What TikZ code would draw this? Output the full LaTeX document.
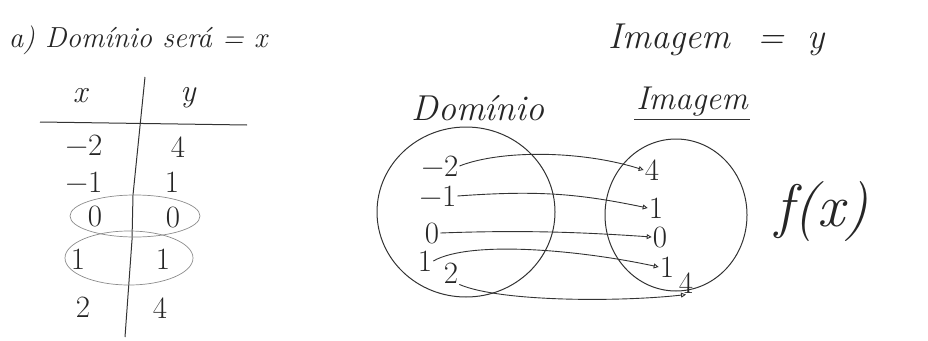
\documentclass[tikz,border=0pt]{standalone}
\usepackage{fontspec}
\usetikzlibrary{arrows.meta}
\begin{document}
\begin{tikzpicture}[x=1pt,y=-1pt,
  pencil/.style={draw=black!80,line width=1pt},
  faint/.style={draw=black!45,line width=0.7pt},
  hand/.style={inner sep=0pt,text=black!85,font=\fontsize{29}{32}\selectfont\itshape},
  elem/.style={inner sep=1pt,text=black!85,font=\fontsize{31}{34}\selectfont},
  maparrow/.style={draw=black!80,line width=0.9pt,-{Triangle[open,length=5pt,width=5pt]}}]
\useasboundingbox (0,0) rectangle (928,340);
% title
\node[hand] (title) at (138,40) {a) Domínio será = x};
\node[hand,font=\fontsize{36}{40}\selectfont\itshape] (img) at (717,40) {Imagem\hspace{0.4em} = \hspace{0.3em}y};
% table
\node[elem,font=\fontsize{32}{36}\selectfont\itshape] (hx) at (80,96) {x};
\node[elem,font=\fontsize{32}{36}\selectfont\itshape] (hy) at (188,98) {y};
\draw[pencil] (40,122) -- (247,125);
\draw[pencil] (145,77) -- (133,195) -- (132,240) -- (125,337);
\node[elem] (a1) at (84,145) {−2};
\node[elem] (b1) at (178,147) {4};
\node[elem] (a2) at (84,182) {−1};
\node[elem] (b2) at (172,182) {1};
\node[elem] (a3) at (95,216) {0};
\node[elem] (b3) at (173,217) {0};
\node[elem] (a4) at (78,259) {1};
\node[elem] (b4) at (163,259) {1};
\node[elem] (a5) at (83,307) {2};
\node[elem] (b5) at (160,308) {4};
\draw[faint] (135,216) ellipse [x radius=65,y radius=21];
\draw[faint] (129,258) ellipse [x radius=64,y radius=27];
% diagram
\node[hand,font=\fontsize{36}{40}\selectfont\itshape] (dom) at (478,108) {Domínio};
\node[hand,font=\fontsize{33}{36}\selectfont\itshape] (im) at (692,102) {Imagem};
\draw[pencil] ([xshift=-2pt,yshift=-3pt]im.south west) -- ([xshift=2pt,yshift=-3pt]im.south east);
\draw[pencil] (466,212) ellipse [x radius=89,y radius=85];
\draw[pencil] (676,215) ellipse [x radius=71,y radius=76];
\node[elem] (d1) at (440,166) {−2};
\node[elem] (d2) at (438,196) {−1};
\node[elem] (d3) at (432,233) {0};
\node[elem] (d4) at (425,261) {1};
\node[elem] (d5) at (451,273) {2};
\node[elem] (i1) at (652,170) {4};
\node[elem] (i2) at (656,208) {1};
\node[elem] (i3) at (660,237) {0};
\node[elem] (i4) at (667,267) {1};
\node[elem] (i5) at (686,283) {4};
\draw[maparrow] (d1.east) .. controls (500,150) and (580,150) .. (i1.west);
\draw[maparrow] (d2.east) .. controls (540,190) and (580,194) .. (i2.west);
\draw[maparrow] (d3.east) .. controls (520,230) and (580,232) .. (i3.west);
\draw[maparrow] (d4.east) .. controls (470,240) and (580,250) .. (i4.west);
\draw[maparrow] (d5.south east) .. controls (500,302) and (620,302) .. (i5.south);
\node[hand,font=\fontsize{60}{64}\selectfont\itshape] (fx) at (822,212) {f(x)};
\end{tikzpicture}
\end{document}
